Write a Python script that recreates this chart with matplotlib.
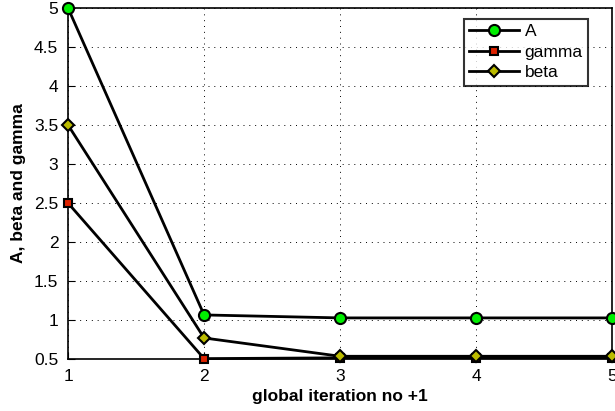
import matplotlib
matplotlib.use("Agg")
import matplotlib.pyplot as plt

plt.rcParams['font.family'] = ['Liberation Sans', 'DejaVu Sans']

iterations = [1, 2, 3, 4, 5]
a_vals = [5.0, 1.065, 1.027, 1.027, 1.027]
gamma_vals = [2.5, 0.505, 0.515, 0.515, 0.515]
beta_vals = [3.5, 0.77, 0.535, 0.535, 0.535]

fig = plt.figure(figsize=(6.15, 4.11), dpi=100)
ax = fig.add_axes([0.1106, 0.1265, 0.885, 0.854])

ax.plot(iterations, a_vals, '-o', color='black', lw=2, ms=8,
        mfc='#00ee00', mec='black', mew=1.5, label='A', clip_on=False, zorder=3)
ax.plot(iterations, gamma_vals, '-s', color='black', lw=2, ms=6,
        mfc='#dd2200', mec='black', mew=1.5, label='gamma', clip_on=False, zorder=3)
ax.plot(iterations, beta_vals, '-D', color='black', lw=2, ms=6.5,
        mfc='#bbbb00', mec='black', mew=1.5, label='beta', clip_on=False, zorder=3)

ax.set_xlim(1, 5)
ax.set_ylim(0.5, 5)
ax.set_xticks(iterations)
ax.set_yticks([0.5, 1, 1.5, 2, 2.5, 3, 3.5, 4, 4.5, 5])
ax.set_yticklabels(['0.5', '1', '1.5', '2', '2.5', '3', '3.5', '4', '4.5', '5'])
ax.tick_params(direction='in', labelsize=12.5, length=5, pad=7)
ax.grid(True, color='black', linestyle=(0, (1, 5)), linewidth=0.7)

ax.set_xlabel('global iteration no +1', fontsize=12.5, fontweight='bold', labelpad=4)
ax.set_ylabel('A, beta and gamma', fontsize=12.5, fontweight='bold', labelpad=6)

for s in ax.spines.values():
    s.set_linewidth(1.2)

leg = ax.legend(loc='upper right', bbox_to_anchor=(0.956, 0.97), fontsize=12.5,
                frameon=True, fancybox=False, edgecolor='black',
                handlelength=2.9, borderpad=0.32, labelspacing=0.3,
                handletextpad=0.3, borderaxespad=0)
leg.get_frame().set_linewidth(1.5)

fig.savefig('out.png', dpi=100)
